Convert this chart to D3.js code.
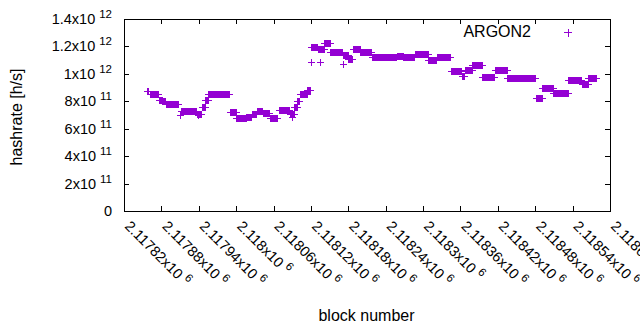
<!DOCTYPE html>
<html>
<head>
<meta charset="utf-8">
<script src="https://cdn.jsdelivr.net/npm/d3@7"></script>
<style>
  body { margin: 0; background: #fff; }
  svg { display: block; font-family: 'Liberation Sans', Arial, sans-serif; }
</style>
</head>
<body>
<div id="chart"></div>
<script>
// hashrate per block, stored as runs of equal value (first block, last block, value)
const runStart = [
  2117857, 2117863, 2117877, 2117882, 2117889, 2117913, 2117938, 2117946, 2117951, 2117956,
  2117991, 2118001, 2118017, 2118026, 2118034, 2118044, 2118055, 2118069, 2118087, 2118094,
  2118099, 2118103, 2118115, 2118121, 2118132, 2118142, 2118152, 2118172, 2118181, 2118188,
  2118200, 2118219, 2118259, 2118269, 2118288, 2118309, 2118323, 2118345, 2118363, 2118368,
  2118380, 2118396, 2118404, 2118416, 2118436, 2118482, 2118492, 2118510, 2118534, 2118556,
  2118566
]
const runEnd = [
  2117859, 2117876, 2117881, 2117887, 2117907, 2117937, 2117945, 2117950, 2117955, 2117990,
  2118000, 2118016, 2118025, 2118033, 2118043, 2118054, 2118066, 2118086, 2118093, 2118098,
  2118102, 2118114, 2118120, 2118131, 2118141, 2118151, 2118171, 2118180, 2118187, 2118199,
  2118218, 2118258, 2118268, 2118287, 2118308, 2118322, 2118344, 2118362, 2118367, 2118379,
  2118395, 2118403, 2118415, 2118435, 2118481, 2118491, 2118509, 2118533, 2118555, 2118565,
  2118579
]
const runValue = [
  8.68e11, 8.46e11, 8.09e11, 7.95e11, 7.80e11, 7.29e11, 7.07e11, 7.58e11, 8.09e11, 8.53e11,
  7.15e11, 6.71e11, 6.85e11, 7.07e11, 7.29e11, 7.11e11, 6.71e11, 7.36e11, 7.07e11, 7.58e11,
  8.02e11, 8.46e11, 8.82e11, 1.192e12, 1.174e12, 1.221e12, 1.159e12, 1.134e12, 1.108e12, 1.174e12,
  1.159e12, 1.116e12, 1.127e12, 1.116e12, 1.138e12, 1.101e12, 1.119e12, 1.014e12, 9.84e11, 1.021e12,
  1.061e12, 9.77e11, 9.70e11, 1.028e12, 9.66e11, 8.20e11, 8.93e11, 8.57e11, 9.48e11, 9.26e11,
  9.66e11
]
// single points lying off the runs
const outlierBlock = [2117910, 2117939, 2118090, 2118121, 2118135, 2118173]
const outlierValue = [6.93e11, 6.93e11, 6.85e11, 1.081e12, 1.086e12, 1.070e12]

const xTickValues = [
  2117820, 2117880, 2117940, 2118000, 2118060, 2118120, 2118180,
  2118240, 2118300, 2118360, 2118420, 2118480, 2118540, 2118600
]
const yTickValues = [0, 2e11, 4e11, 6e11, 8e11, 1e12, 1.2e12, 1.4e12]

const seriesName = 'ARGON2'
const color = '#9400d3'

const width = 640
const height = 330
const margin = { top: 19, right: 30, bottom: 119, left: 124 }

const points = runStart
  .flatMap((s, i) => d3.range(s, runEnd[i] + 1).map((b) => ({ block: b, value: runValue[i] })))
  .concat(outlierBlock.map((b, i) => ({ block: b, value: outlierValue[i] })))

const svg = d3
  .select('#chart')
  .append('svg')
  .attr('width', width)
  .attr('height', height)

const xScale = d3
  .scaleLinear()
  .domain([xTickValues[0], xTickValues[xTickValues.length - 1]])
  .range([margin.left, width - margin.right])

const yScale = d3
  .scaleLinear()
  .domain([0, yTickValues[yTickValues.length - 1]])
  .range([height - margin.bottom, margin.top])

// split a number into mantissa and power of ten, like gnuplot's "%tx10^{%T}"
function sci(v) {
  if (v === 0) return null
  const e = Math.floor(Math.log10(v))
  return { m: +(v / 10 ** e).toPrecision(6), e }
}

const tick = 5
const x0 = xScale.range()[0]
const x1 = xScale.range()[1]
const y0 = yScale.range()[0]
const y1 = yScale.range()[1]

const axes = svg.append('g').attr('shape-rendering', 'crispEdges')

axes
  .append('g')
  .attr('transform', `translate(0, ${y0})`)
  .call(d3.axisBottom(xScale).tickValues(xTickValues).tickSize(-tick).tickFormat(''))
axes
  .append('g')
  .attr('transform', `translate(0, ${y1})`)
  .call(d3.axisTop(xScale).tickValues(xTickValues).tickSize(-tick).tickFormat(''))
axes
  .append('g')
  .attr('transform', `translate(${x0}, 0)`)
  .call(d3.axisLeft(yScale).tickValues(yTickValues).tickSize(-tick).tickFormat(''))
axes
  .append('g')
  .attr('transform', `translate(${x1}, 0)`)
  .call(d3.axisRight(yScale).tickValues(yTickValues).tickSize(-tick).tickFormat(''))

axes.selectAll('.domain').remove()
axes.selectAll('.tick line').attr('stroke', '#000')

axes
  .append('rect')
  .attr('x', x0)
  .attr('y', y1)
  .attr('width', x1 - x0)
  .attr('height', y0 - y1)
  .attr('fill', 'none')
  .attr('stroke', '#000')

// y tick labels
const yLabels = svg
  .append('g')
  .attr('font-size', 14.5)
  .attr('text-anchor', 'end')
  .selectAll('text')
  .data(yTickValues)
  .join('text')
  .attr('x', x0 - 12)
  .attr('y', (d) => yScale(d) + 5)

yLabels.each(function (d) {
  const t = d3.select(this)
  const s = sci(d)
  if (!s) {
    t.text('0')
    return
  }
  t.append('tspan').text(`${s.m}x10`)
  t.append('tspan').attr('font-size', 11.5).attr('dx', 4).attr('dy', -6).text(s.e)
})

// x tick labels, rotated
const xLabels = svg
  .append('g')
  .attr('font-size', 14.5)
  .selectAll('text')
  .data(xTickValues)
  .join('text')
  .attr('transform', (d) => `translate(${xScale(d)}, ${y0 + 16}) rotate(45)`)

xLabels.each(function (d) {
  const t = d3.select(this)
  const s = sci(d)
  t.append('tspan').text(`${s.m}x10`)
  t.append('tspan').attr('font-size', 11.5).attr('dx', 4).attr('dy', -6).text(s.e)
})

// axis titles
svg
  .append('text')
  .attr('x', (x0 + x1) / 2 - 0.5)
  .attr('y', 321)
  .attr('text-anchor', 'middle')
  .attr('font-size', 16)
  .text('block number')

svg
  .append('text')
  .attr('transform', `translate(22, ${(y0 + y1) / 2 + 2}) rotate(-90)`)
  .attr('text-anchor', 'middle')
  .attr('font-size', 16)
  .text('hashrate [h/s]')

// points drawn as gnuplot style plus marks
const plus = (px, py, r) => `M${px - r},${py}H${px + r}M${px},${py - r}V${py + r}`

svg
  .append('g')
  .attr('stroke', color)
  .attr('stroke-width', 1)
  .attr('fill', 'none')
  .attr('shape-rendering', 'crispEdges')
  .selectAll('path')
  .data(points)
  .join('path')
  .attr('d', (d) => plus(xScale(d.block), yScale(d.value), 3.5))

// legend
const legend = svg.append('g')
legend
  .append('text')
  .attr('x', 531)
  .attr('y', 37)
  .attr('text-anchor', 'end')
  .attr('font-size', 16)
  .text(seriesName)
legend
  .append('path')
  .attr('d', plus(568, 32.5, 4))
  .attr('stroke', color)
  .attr('shape-rendering', 'crispEdges')
</script>
</body>
</html>
